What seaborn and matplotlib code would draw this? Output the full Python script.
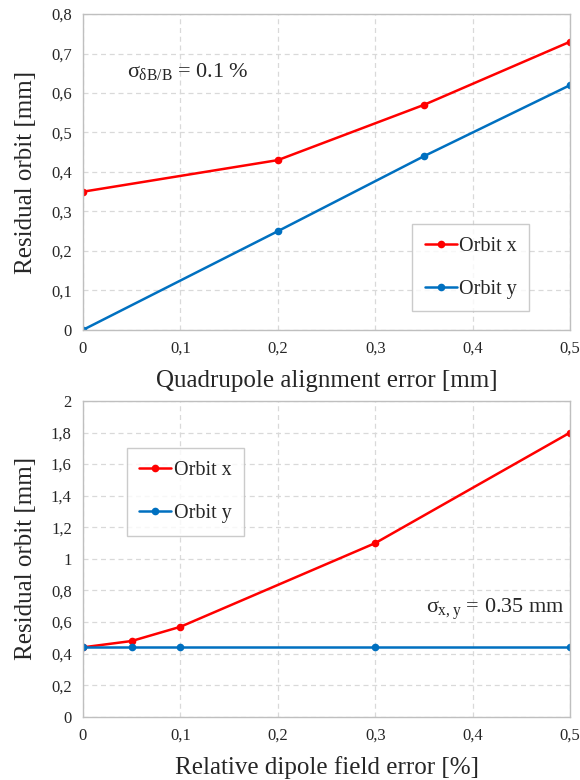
import numpy as np
import pandas as pd
import matplotlib
matplotlib.use("Agg")
import matplotlib.pyplot as plt
import matplotlib.ticker as mticker
import seaborn as sns

# top panel: quadrupole alignment error scan
quad_err = [0, 0.2, 0.35, 0.5]
quad_orbit_x = [0.35, 0.43, 0.57, 0.73]
quad_orbit_y = [0.0, 0.25, 0.44, 0.62]

# bottom panel: dipole field error scan
dip_err = [0, 0.05, 0.1, 0.3, 0.5]
dip_orbit_x = [0.44, 0.48, 0.57, 1.10, 1.80]
dip_orbit_y = [0.44, 0.44, 0.44, 0.44, 0.44]

series_names = ["Orbit x", "Orbit y"]
colors = ["#ff0000", "#0070c0"]

sns.set_style("white")
plt.rcParams["font.family"] = ["Liberation Serif", "DejaVu Serif"]
plt.rcParams["mathtext.fontset"] = "custom"
plt.rcParams["mathtext.rm"] = "Liberation Serif"
plt.rcParams["mathtext.it"] = "Liberation Serif"


def make_long(x, ox, oy):
    df = pd.DataFrame({"err": list(x) * 2,
                       "orbit": list(ox) + list(oy),
                       "series": [series_names[0]] * len(x) + [series_names[1]] * len(x)})
    return df


def style_axes(ax, ymax, ystep):
    ax.set_xlim(0, 0.5)
    ax.set_ylim(0, ymax)
    ax.set_xticks(np.arange(0, 0.51, 0.1))
    ax.set_yticks(np.arange(0, ymax + 1e-9, ystep))
    fmt = mticker.FuncFormatter(lambda v, p: ("%g" % round(v, 2)).replace(".", ","))
    ax.xaxis.set_major_formatter(fmt)
    ax.yaxis.set_major_formatter(fmt)
    ax.grid(True, color="#d9d9d9", linestyle=(0, (4, 3)), linewidth=0.9)
    for s in ax.spines.values():
        s.set_color("#bfbfbf")
        s.set_linewidth(1.0)
    ax.tick_params(length=0, labelsize=12, pad=8)
    ax.set_ylabel("Residual orbit [mm]", fontsize=18, labelpad=10)


def add_legend(ax, x, y):
    leg = ax.legend(loc="center left", bbox_to_anchor=(x, y), fontsize=14.5,
                    frameon=True, fancybox=False, edgecolor="#bfbfbf", handlelength=1.6,
                    handletextpad=0.1, labelspacing=1.2, borderpad=0.62, borderaxespad=0)
    leg.get_frame().set_linewidth(1.0)


fig, (ax1, ax2) = plt.subplots(2, 1, figsize=(5.8, 7.8), dpi=100)
fig.subplots_adjust(left=0.143, right=0.983, top=0.982, bottom=0.081, hspace=0.225)

df1 = make_long(quad_err, quad_orbit_x, quad_orbit_y)
sns.lineplot(data=df1, x="err", y="orbit", hue="series", palette=colors,
             marker="o", markersize=5.5, markeredgewidth=0, linewidth=1.8, ax=ax1)
style_axes(ax1, 0.8, 0.1)
ax1.set_xlabel("Quadrupole alignment error [mm]", fontsize=18, labelpad=9)
add_legend(ax1, 0.676, 0.197)
ax1.text(0.045, 0.655, r"$\sigma_{\delta\mathrm{B/B}}$ = 0.1 %", fontsize=16,
         va="center")

df2 = make_long(dip_err, dip_orbit_x, dip_orbit_y)
sns.lineplot(data=df2, x="err", y="orbit", hue="series", palette=colors,
             marker="o", markersize=5.5, markeredgewidth=0, linewidth=1.8, ax=ax2)
style_axes(ax2, 2.0, 0.2)
ax2.set_xlabel("Relative dipole field error [%]", fontsize=18, labelpad=9)
add_legend(ax2, 0.090, 0.712)
ax2.text(0.495, 0.68, r"$\sigma_{\mathrm{x,y}}$ = 0.35 mm", fontsize=16,
         va="center", ha="right")

fig.savefig("out.png", dpi=100)
